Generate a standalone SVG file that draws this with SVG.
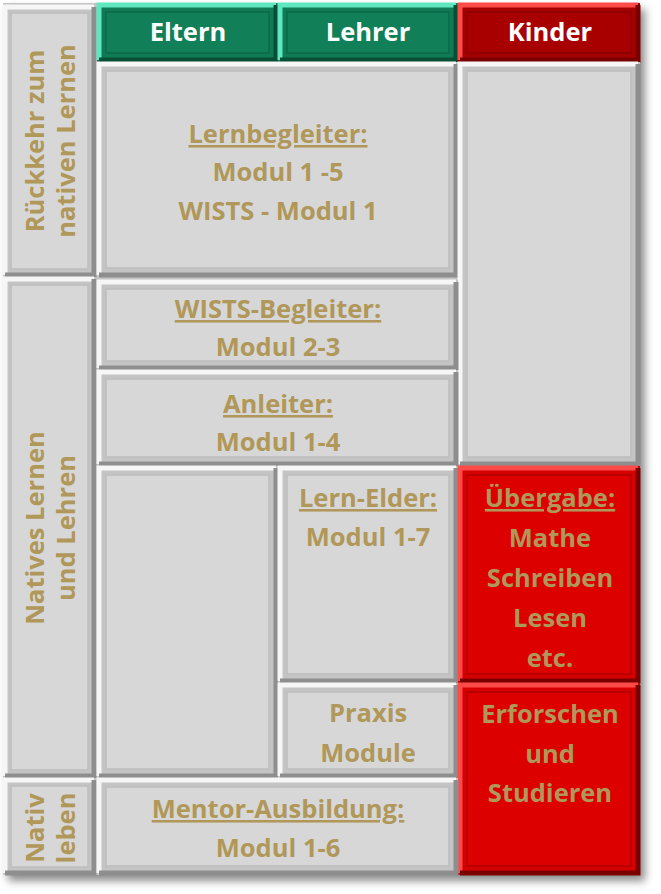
<svg xmlns="http://www.w3.org/2000/svg" width="661" height="894" viewBox="0 0 661 894">
<style>
.o{fill:#c4c4c4}.i{fill:#d7d7d7;stroke:#bdbdbd;stroke-width:1.5}
.hl{fill:none;stroke:#f6f6f6;stroke-width:5}.sh{fill:none;stroke:#8e8e8e;stroke-width:5}
.go{fill:#0f7a55}.gi{fill:#117f58;stroke:#0b6a48;stroke-width:1.5}.ghl{fill:none;stroke:#5fe8c0;stroke-width:5}.gsh{fill:none;stroke:#075036;stroke-width:5}
.ro{fill:#d60000}.ri{fill:#dc0000;stroke:#b00000;stroke-width:1.5}.rhl{fill:none;stroke:#ff4a4a;stroke-width:5}.rsh{fill:none;stroke:#7a0000;stroke-width:5}
.dro{fill:#a50000}.dri{fill:#a80000;stroke:#8a0000;stroke-width:1.5}
text{font-family:"Open Sans","Noto Sans",sans-serif;font-weight:bold;font-size:25.5px;fill:#b0975a;text-anchor:middle}
.w{fill:#fff}.u{text-decoration:underline}
</style>
<defs>
<filter id="sd" x="-5%" y="-5%" width="115%" height="115%"><feDropShadow dx="5" dy="6" stdDeviation="4" flood-color="#000" flood-opacity="0.45"/></filter>
<clipPath id="cl"><rect x="10" y="786" width="78" height="82"/></clipPath>
</defs>
<rect width="661" height="894" fill="#fff"/>
<g filter="url(#sd)">
<rect x="3" y="3" width="637" height="872" fill="#c4c4c4"/>
</g>
<g id="left1"><rect class="o" x="3" y="5" width="93" height="272"/><path class="hl" d="M5,275V7H94"/><path class="sh" d="M94,7V275H5"/><rect class="i" x="11" y="13" width="77" height="256"/>
<text transform="translate(48,141) rotate(-90)"><tspan x="0" y="-4">Rückkehr zum</tspan><tspan x="0" y="27">nativen Lernen</tspan></text></g>
<g id="left2"><rect class="o" x="3" y="277" width="93" height="501"/><path class="hl" d="M5,776V279H94"/><path class="sh" d="M94,279V776H5"/><rect class="i" x="11" y="285" width="77" height="485"/>
<text transform="translate(48,528) rotate(-90)"><tspan x="0" y="-4">Natives Lernen</tspan><tspan x="0" y="27">und Lehren</tspan></text></g>
<g id="left3"><rect class="o" x="3" y="778" width="93" height="97"/><path class="hl" d="M5,873V780H94"/><path class="sh" d="M94,780V873H5"/><rect class="i" x="11" y="786" width="77" height="81"/>
<g clip-path="url(#cl)"><text transform="translate(48,828) rotate(-90)"><tspan x="0" y="-4">Nativ</tspan><tspan x="0" y="27">leben</tspan></text></g></g>
<g id="eltern"><rect class="go" x="97" y="3" width="181" height="59"/><path class="ghl" d="M99,60V5H276"/><path class="gsh" d="M276,5V60H99"/><rect class="gi" x="106" y="12" width="163" height="41"/><text class="w" x="188" y="41">Eltern</text></g>
<g id="lehrer"><rect class="go" x="278" y="3" width="180" height="59"/><path class="ghl" d="M280,60V5H456"/><path class="gsh" d="M456,5V60H280"/><rect class="gi" x="287" y="12" width="162" height="41"/><text class="w" x="368" y="41">Lehrer</text></g>
<g id="kinder"><rect class="dro" x="458" y="3" width="182" height="59"/><path class="rhl" d="M460,60V5H638"/><path class="rsh" d="M638,5V60H460"/><rect class="dri" x="467" y="12" width="164" height="41"/><text class="w" x="550" y="41">Kinder</text></g>
<g id="lernbegleiter"><rect class="o" x="97" y="62" width="361" height="215"/><path class="hl" d="M99,275V64H456"/><path class="sh" d="M456,64V275H99"/><rect class="i" x="106" y="71" width="343" height="197"/>
<text class="u" x="278" y="143">Lernbegleiter:</text><text x="278" y="181">Modul 1 -5</text><text x="278" y="220">WISTS - Modul 1</text></g>
<g id="kindergrau"><rect class="o" x="458" y="62" width="182" height="404"/><path class="hl" d="M460,464V64H638"/><path class="sh" d="M638,64V464H460"/><rect class="i" x="467" y="71" width="164" height="386"/></g>
<g id="wists"><rect class="o" x="97" y="280" width="361" height="90"/><path class="hl" d="M99,368V282H456"/><path class="sh" d="M456,282V368H99"/><rect class="i" x="106" y="289" width="343" height="72"/>
<text class="u" x="278" y="318">WISTS-Begleiter:</text><text x="278" y="356">Modul 2-3</text></g>
<g id="anleiter"><rect class="o" x="97" y="370" width="361" height="96"/><path class="hl" d="M99,464V372H456"/><path class="sh" d="M456,372V464H99"/><rect class="i" x="106" y="379" width="343" height="78"/>
<text class="u" x="278" y="413">Anleiter:</text><text x="278" y="451">Modul 1-4</text></g>
<g id="leer"><rect class="o" x="97" y="466" width="181" height="312"/><path class="hl" d="M99,776V468H276"/><path class="sh" d="M276,468V776H99"/><rect class="i" x="106" y="475" width="163" height="294"/></g>
<g id="lernelder"><rect class="o" x="278" y="466" width="180" height="217"/><path class="hl" d="M280,681V468H456"/><path class="sh" d="M456,468V681H280"/><rect class="i" x="287" y="475" width="162" height="199"/>
<text class="u" x="368" y="507">Lern-Elder:</text><text x="368" y="546">Modul 1-7</text></g>
<g id="praxis"><rect class="o" x="278" y="683" width="180" height="95"/><path class="hl" d="M280,776V685H456"/><path class="sh" d="M456,685V776H280"/><rect class="i" x="287" y="692" width="162" height="77"/>
<text x="368" y="722">Praxis</text><text x="368" y="762">Module</text></g>
<g id="uebergabe"><rect class="ro" x="458" y="466" width="182" height="217"/><path class="rhl" d="M460,681V468H638"/><path class="rsh" d="M638,468V681H460"/><rect class="ri" x="467" y="475" width="164" height="199"/>
<text class="u" x="550" y="507">Übergabe:</text><text x="550" y="547">Mathe</text><text x="550" y="587">Schreiben</text><text x="550" y="627">Lesen</text><text x="550" y="667">etc.</text></g>
<g id="erforschen"><rect class="ro" x="458" y="683" width="182" height="192"/><path class="rhl" d="M460,873V685H638"/><path class="rsh" d="M638,685V873H460"/><rect class="ri" x="467" y="692" width="164" height="174"/>
<text x="550" y="723">Erforschen</text><text x="550" y="763">und</text><text x="550" y="802">Studieren</text></g>
<g id="mentor"><rect class="o" x="97" y="778" width="361" height="97"/><path class="hl" d="M99,873V780H456"/><path class="sh" d="M456,780V873H99"/><rect class="i" x="106" y="787" width="343" height="79"/>
<text class="u" x="278" y="818">Mentor-Ausbildung:</text><text x="278" y="857">Modul 1-6</text></g>
<g id="connectors"/>
</svg>
